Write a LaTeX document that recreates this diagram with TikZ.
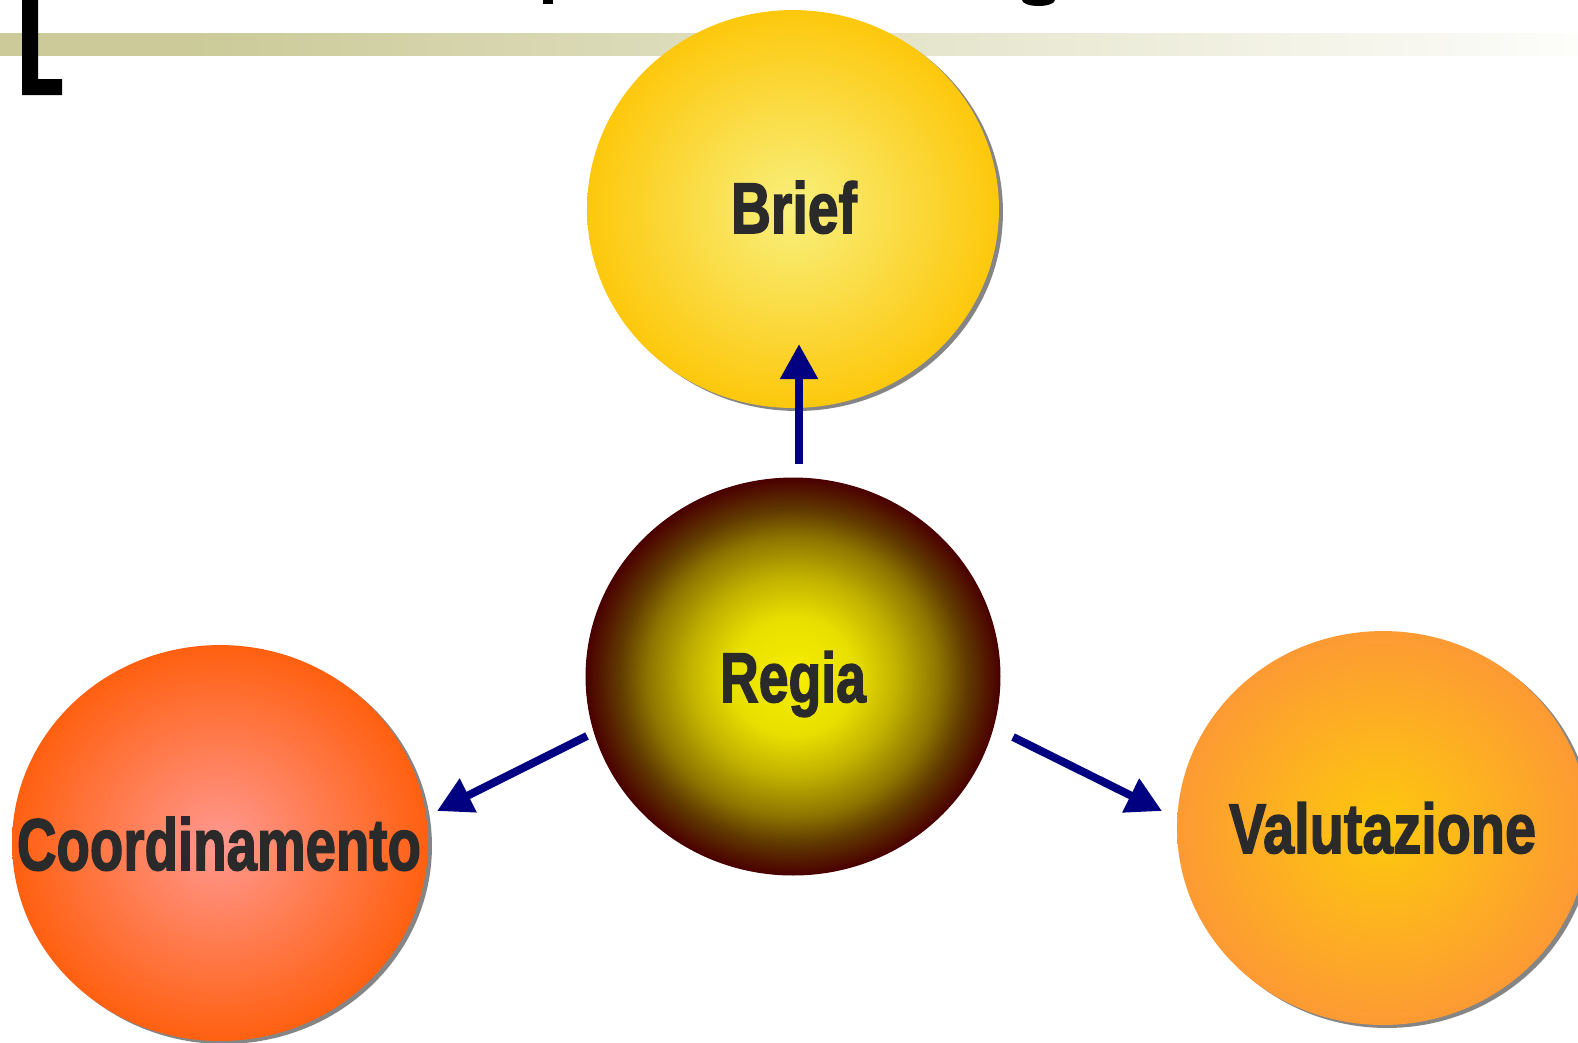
\documentclass[tikz,border=0pt]{standalone}
\usepackage{fontspec}
\setmainfont{Liberation Sans}
\newfontfamily\heavyfont[FakeBold=2.2]{Liberation Sans Bold}
\usepackage{graphicx}
\usetikzlibrary{shapes.geometric,shadows,arrows.meta}
\definecolor{barL}{HTML}{CBCA98}
\definecolor{barR}{HTML}{FDFDFB}
\definecolor{navyc}{HTML}{000080}
\definecolor{lblcol}{HTML}{2A2A2A}
\definecolor{shadowgray}{HTML}{858585}
\definecolor{briefIn}{HTML}{F8F07E}
\definecolor{briefOut}{HTML}{FDC80C}
\definecolor{regiaIn}{HTML}{F7EE00}
\definecolor{regiaA}{HTML}{E8DF00}
\definecolor{regiaB}{HTML}{C2B200}
\definecolor{regiaC}{HTML}{8E7600}
\definecolor{regiaD}{HTML}{603A00}
\definecolor{regiaOut}{HTML}{4A0000}
\definecolor{coordIn}{HTML}{FF9890}
\definecolor{coordOut}{HTML}{FF6010}
\definecolor{valIn}{HTML}{FDC90C}
\definecolor{valOut}{HTML}{FD9A34}
\pgfdeclarehorizontalshading{barshade}{100bp}{color(0bp)=(barL); color(25bp)=(barL); color(31bp)=(barL); color(75bp)=(barR); color(100bp)=(barR)}
\pgfdeclareradialshading{regiashade}{\pgfpoint{0bp}{0bp}}{color(0bp)=(regiaIn); color(7.5bp)=(regiaA); color(12.5bp)=(regiaB); color(17.5bp)=(regiaC); color(21bp)=(regiaD); color(25bp)=(regiaOut); color(50bp)=(regiaOut)}
\tikzset{
  ball/.style={ellipse, inner sep=0pt, draw=none},
  shad/.style={drop shadow={shadow xshift=0.08cm, shadow yshift=-0.06cm, fill=shadowgray, opacity=1}},
  lbl/.style={text=lblcol, inner sep=0pt, anchor=base, font=\heavyfont},
  conn/.style={draw=navyc, line width=0.16cm, -{Triangle[length=0.7cm,width=0.72cm]}}
}
\begin{document}
\begin{tikzpicture}[x=0.02cm,y=-0.02cm]
\useasboundingbox (0,0) rectangle (1578,1042);
\clip (0,0) rectangle (1578,1042);
\fill[white] (0,0) rectangle (1578,1042);
% top bar
\shade[shading=barshade] (0,33) rectangle (1578,55);
% title fragments
\fill[black] (22,-2)--(38,-2)--(38,79)--(62,79)--(62,95)--(22,95)--cycle;
\fill[black] (543,-2) rectangle (553,4);
\fill[black] (1038.5,0) ellipse (16.5 and 6);
% balls
\node[ball, shad, inner color=briefIn, outer color=briefOut, minimum width=8.24cm, minimum height=7.96cm] (brief) at (793,209) {};
\node[ball, shading=regiashade, draw=regiaOut, line width=0.6pt, minimum width=8.28cm, minimum height=7.94cm] (regia) at (793,676.5) {};
\node[ball, shad, inner color=coordIn, outer color=coordOut, minimum width=8.32cm, minimum height=7.92cm] (coord) at (220,843) {};
\node[ball, shad, inner color=valIn, outer color=valOut, minimum width=8.24cm, minimum height=7.88cm] (valut) at (1383,828) {};
% labels
\node[lbl] (briefl) at (794,233) {\resizebox{2.52cm}{1.04cm}{Brief}};
\node[lbl] (regial) at (793,702) {\resizebox{2.92cm}{1.02cm}{Regia}};
\node[lbl] (coordl) at (219,870) {\resizebox{8.08cm}{1.06cm}{Coordinamento}};
\node[lbl] (valutl) at (1382.5,853) {\resizebox{6.14cm}{1.02cm}{Valutazione}};
% arrows
\coordinate (u1) at (799,464);
\coordinate (u2) at (799,344);
\coordinate (l1) at (587,736);
\coordinate (l2) at (437,811);
\coordinate (r1) at (1013,737);
\coordinate (r2) at (1162,811);
\draw[conn] (u1) -- (u2);
\draw[conn] (l1) -- (l2);
\draw[conn] (r1) -- (r2);
\end{tikzpicture}
\end{document}
